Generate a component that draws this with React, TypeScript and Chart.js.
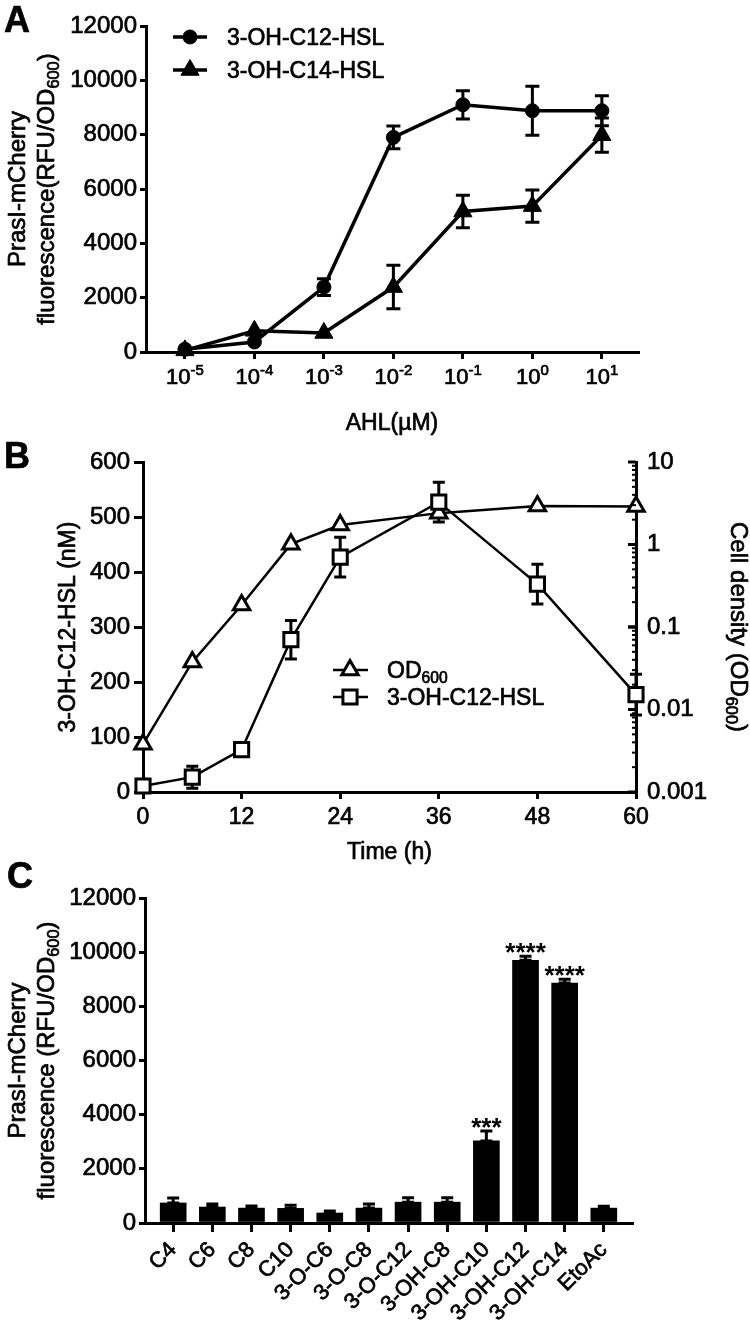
import React, { useEffect, useRef } from 'react';
import { Chart, registerables } from 'chart.js';

Chart.register(...registerables);

const FONT = '"Liberation Sans", Arial, Helvetica, sans-serif';
const W = 750;
const H = 1332;
const STROKE = 0.7;
Chart.defaults.font.family = FONT;
Chart.defaults.color = '#000';

// ---------------- Panel A data ----------------
const aConc = [1e-5, 1e-4, 1e-3, 1e-2, 1e-1, 1, 10];
const aExponents = ['-5', '-4', '-3', '-2', '-1', '0', '1'];
const aC12Mean = [100, 370, 2390, 7900, 9100, 8880, 8880];
const aC12Err = [0, 0, 310, 420, 520, 900, 550];
const aC14Mean = [60, 780, 700, 2390, 5170, 5370, 7980];
const aC14Err = [0, 0, 0, 800, 600, 590, 630];
const aLegend = ['3-OH-C12-HSL', '3-OH-C14-HSL'];

// ---------------- Panel B data ----------------
const bTime = [0, 6, 12, 18, 24, 36, 48, 60];
const bOD = [0.0038, 0.0377, 0.185, 1.01, 1.72, 2.4, 2.93, 2.88];
const bHSL = [11, 27, 77, 277, 427, 527, 378, 177];
const bHSLErr = [0, 20, 0, 35, 36, 36, 36, 37];
const bRightTicks = [0.001, 0.01, 0.1, 1, 10];
const bRightLabels = ['0.001', '0.01', '0.1', '1', '10'];

// ---------------- Panel C data ----------------
const cCats = ['C4', 'C6', 'C8', 'C10', '3-O-C6', '3-O-C8', '3-O-C12', '3-OH-C8', '3-OH-C10', '3-OH-C12', '3-OH-C14', 'EtoAc'];
const cMean = [740, 590, 550, 540, 370, 550, 770, 770, 3030, 9700, 8860, 550];
const cErr = [180, 110, 80, 120, 70, 150, 160, 160, 370, 150, 140, 70];
const cStars = ['', '', '', '', '', '', '', '', '***', '****', '****', ''];

type Seg = { t: string; s?: 'sub' | 'sup' };

function font(size: number, bold = false) {
  return `${bold ? 'bold ' : ''}${size}px ${FONT}`;
}

function drawRich(
  ctx: CanvasRenderingContext2D,
  segs: Seg[],
  x: number,
  y: number,
  size: number,
  align: 'left' | 'center' | 'right' = 'left',
  rot = 0,
  bold = false,
  subRatio = 0.68
) {
  ctx.save();
  ctx.translate(x, y);
  if (rot) ctx.rotate(rot);
  ctx.textAlign = 'left';
  ctx.textBaseline = 'alphabetic';
  ctx.fillStyle = '#000';
  ctx.strokeStyle = '#000';
  ctx.lineWidth = STROKE;
  ctx.lineJoin = 'round';
  const sizes = segs.map((s) => (s.s ? size * subRatio : size));
  let total = 0;
  const widths = segs.map((s, i) => {
    ctx.font = font(sizes[i], bold);
    const w = ctx.measureText(s.t).width;
    total += w;
    return w;
  });
  let cx = align === 'center' ? -total / 2 : align === 'right' ? -total : 0;
  segs.forEach((s, i) => {
    ctx.font = font(sizes[i], bold);
    const dy = s.s === 'sub' ? size * 0.22 : s.s === 'sup' ? -size * 0.4 : 0;
    ctx.fillText(s.t, cx, dy);
    ctx.strokeText(s.t, cx, dy);
    cx += widths[i];
  });
  ctx.restore();
}

function drawLetter(ctx: CanvasRenderingContext2D, letter: string, x: number, y: number) {
  drawRich(ctx, [{ t: letter }], x, y, 36, 'left', 0, true);
}

function marker(
  ctx: CanvasRenderingContext2D,
  style: string,
  x: number,
  y: number,
  r: number,
  fill: string,
  lw: number
) {
  ctx.save();
  ctx.beginPath();
  if (style === 'circle') {
    ctx.arc(x, y, r, 0, Math.PI * 2);
  } else if (style === 'triangle') {
    for (let k = 0; k < 3; k++) {
      const a = (k * 2 * Math.PI) / 3;
      const px = x + Math.sin(a) * r;
      const py = y - Math.cos(a) * r;
      if (k === 0) ctx.moveTo(px, py);
      else ctx.lineTo(px, py);
    }
  } else {
    const s = r * Math.SQRT1_2;
    ctx.rect(x - s, y - s, 2 * s, 2 * s);
  }
  ctx.closePath();
  ctx.fillStyle = fill;
  ctx.fill();
  ctx.strokeStyle = '#000';
  ctx.lineWidth = lw;
  ctx.stroke();
  ctx.restore();
}

function errBar(ctx: CanvasRenderingContext2D, x: number, top: number, bot: number | null, cap: number) {
  ctx.beginPath();
  ctx.moveTo(x, top);
  ctx.lineTo(x, bot === null ? top + 1 : bot);
  ctx.moveTo(x - cap, top);
  ctx.lineTo(x + cap, top);
  if (bot !== null) {
    ctx.moveTo(x - cap, bot);
    ctx.lineTo(x + cap, bot);
  }
  ctx.stroke();
}

function gridStyle(tickLength: number) {
  return {
    drawOnChartArea: false,
    drawTicks: true,
    tickLength,
    tickWidth: 3,
    tickColor: '#000',
    color: '#000',
    lineWidth: 3,
    offset: false,
  };
}
function tickFont(size: number) {
  return {
    font: { size, family: FONT },
    color: '#000',
    textStrokeColor: '#000',
    textStrokeWidth: STROKE,
  };
}
const plainNum = (v: any) => String(v);
const axisBorder = { display: true, color: '#000', width: 3 };
const baseOptions = {
  responsive: false,
  maintainAspectRatio: false,
  animation: false as const,
  devicePixelRatio: 1,
};

// ---------------- Panel A ----------------
function makeA(canvas: HTMLCanvasElement) {
  const ds = (label: string, mean: number[], style: string, r: number) => ({
    label,
    data: aConc.map((x, i) => ({ x, y: mean[i] })),
    borderColor: '#000',
    backgroundColor: '#000',
    borderWidth: 3.5,
    pointStyle: style,
    pointRadius: r,
    pointBackgroundColor: '#000',
    pointBorderColor: '#000',
    pointBorderWidth: 1,
    tension: 0,
    clip: false as const,
  });
  return new Chart(canvas, {
    type: 'line',
    data: {
      datasets: [ds(aLegend[0], aC12Mean, 'circle', 7), ds(aLegend[1], aC14Mean, 'triangle', 10.5)],
    },
    options: {
      ...baseOptions,
      layout: { padding: { left: 0, top: 26, right: W - 638, bottom: H - 352 - 80 } },
      plugins: { legend: { display: false }, tooltip: { enabled: false } },
      scales: {
        x: {
          type: 'logarithmic',
          position: 'bottom',
          min: Math.pow(10, -5.56),
          max: Math.pow(10, 1.52),
          afterBuildTicks: (s: any) => {
            s.ticks = aConc.map((v) => ({ value: v }));
          },
          afterFit: (s: any) => {
            s.height = 80;
          },
          ticks: { callback: () => '', autoSkip: false, padding: 0 },
          grid: gridStyle(7),
          border: axisBorder,
        },
        y: {
          type: 'linear',
          min: 0,
          max: 12000,
          afterFit: (s: any) => {
            s.width = 146;
          },
          ticks: { stepSize: 2000, callback: plainNum, padding: 3, ...tickFont(24) },
          grid: gridStyle(6),
          border: axisBorder,
        },
      },
    } as any,
    plugins: [
      {
        id: 'aDeco',
        beforeDatasetsDraw(chart: any) {
          const ctx = chart.ctx as CanvasRenderingContext2D;
          const xs = chart.scales.x;
          const ys = chart.scales.y;
          ctx.save();
          ctx.strokeStyle = '#000';
          ctx.lineWidth = 3;
          const series: [number[], number[]][] = [
            [aC12Mean, aC12Err],
            [aC14Mean, aC14Err],
          ];
          series.forEach(([m, e]) =>
            m.forEach((v, i) => {
              if (!e[i]) return;
              const x = xs.getPixelForValue(aConc[i]);
              errBar(ctx, x, ys.getPixelForValue(v + e[i]), ys.getPixelForValue(Math.max(0, v - e[i])), 7);
            })
          );
          ctx.restore();
        },
        afterDraw(chart: any) {
          const ctx = chart.ctx as CanvasRenderingContext2D;
          const xs = chart.scales.x;
          aConc.forEach((v, i) => {
            const x = xs.getPixelForValue(v);
            drawRich(ctx, [{ t: '10' }, { t: aExponents[i], s: 'sup' }], x, 384, 22, 'center');
          });
          const cx = (chart.chartArea.left + chart.chartArea.right) / 2;
          drawRich(ctx, [{ t: 'AHL(µM)' }], cx, 430, 23, 'center');
          const cy = (chart.chartArea.top + chart.chartArea.bottom) / 2;
          drawRich(ctx, [{ t: 'PrasI-mCherry' }], 25, cy, 24, 'center', -Math.PI / 2);
          drawRich(ctx, [{ t: 'fluorescence(RFU/OD' }, { t: '600', s: 'sub' }, { t: ')' }], 54, cy, 24, 'center', -Math.PI / 2);
          const items = [
            { y: 37, style: 'circle', r: 7 },
            { y: 70, style: 'triangle', r: 10.5 },
          ];
          items.forEach((it, i) => {
            ctx.save();
            ctx.strokeStyle = '#000';
            ctx.lineWidth = 3.5;
            ctx.beginPath();
            ctx.moveTo(173, it.y);
            ctx.lineTo(207, it.y);
            ctx.stroke();
            ctx.restore();
            marker(ctx, it.style, 190, it.y, it.r, '#000', 1);
            drawRich(ctx, [{ t: aLegend[i] }], 227, it.y + 8, 23, 'left');
          });
          drawLetter(ctx, 'A', 4, 32);
        },
      },
    ],
  });
}

// ---------------- Panel B ----------------
function makeB(canvas: HTMLCanvasElement) {
  return new Chart(canvas, {
    type: 'line',
    data: {
      datasets: [
        {
          label: '3-OH-C12-HSL',
          data: bTime.map((x, i) => ({ x, y: bHSL[i] })),
          yAxisID: 'y',
          borderColor: '#000',
          borderWidth: 2.5,
          pointStyle: 'rect',
          pointRadius: 10,
          pointBackgroundColor: '#fff',
          pointBorderColor: '#000',
          pointBorderWidth: 3,
          tension: 0,
          clip: false as const,
          order: 0,
        },
        {
          label: 'OD600',
          data: bTime.map((x, i) => ({ x, y: bOD[i] })),
          yAxisID: 'y2',
          borderColor: '#000',
          borderWidth: 2.5,
          pointStyle: 'triangle',
          pointRadius: 9.5,
          pointBackgroundColor: '#fff',
          pointBorderColor: '#000',
          pointBorderWidth: 3,
          tension: 0,
          clip: false as const,
          order: 1,
        },
      ],
    },
    options: {
      ...baseOptions,
      layout: { padding: { left: 0, top: 462, right: 0, bottom: H - 792 - 60 } },
      plugins: { legend: { display: false }, tooltip: { enabled: false } },
      scales: {
        x: {
          type: 'linear',
          min: 0,
          max: 60,
          afterFit: (s: any) => {
            s.height = 60;
          },
          ticks: { stepSize: 12, callback: plainNum, padding: 5, ...tickFont(23) },
          grid: gridStyle(7),
          border: axisBorder,
        },
        y: {
          type: 'linear',
          position: 'left',
          min: 0,
          max: 600,
          afterFit: (s: any) => {
            s.width = 143;
          },
          ticks: { stepSize: 100, callback: plainNum, padding: 4, ...tickFont(24) },
          grid: gridStyle(9),
          border: axisBorder,
        },
        y2: {
          type: 'logarithmic',
          position: 'right',
          min: 0.001,
          max: 10,
          afterBuildTicks: (s: any) => {
            s.ticks = bRightTicks.map((v) => ({ value: v }));
          },
          afterFit: (s: any) => {
            s.width = W - 636;
          },
          ticks: {
            callback: (_v: any, i: number) => bRightLabels[i],
            padding: 11,
            autoSkip: false,
            ...tickFont(24),
          },
          grid: { drawOnChartArea: false, drawTicks: false, color: '#000', lineWidth: 3 },
          border: axisBorder,
        },
      },
    } as any,
    plugins: [
      {
        id: 'bDeco',
        beforeDatasetsDraw(chart: any) {
          const ctx = chart.ctx as CanvasRenderingContext2D;
          const xs = chart.scales.x;
          const ys = chart.scales.y;
          ctx.save();
          ctx.strokeStyle = '#000';
          ctx.lineWidth = 3;
          bHSL.forEach((v, i) => {
            if (!bHSLErr[i]) return;
            errBar(ctx, xs.getPixelForValue(bTime[i]), ys.getPixelForValue(v + bHSLErr[i]), ys.getPixelForValue(v - bHSLErr[i]), 6);
          });
          ctx.restore();
        },
        afterDraw(chart: any) {
          const ctx = chart.ctx as CanvasRenderingContext2D;
          const y2 = chart.scales.y2;
          const right = chart.chartArea.right;
          ctx.save();
          ctx.strokeStyle = '#000';
          for (let d = -3; d <= 0; d++) {
            for (let m = 1; m <= 10; m++) {
              const v = m * Math.pow(10, d);
              const y = y2.getPixelForValue(v);
              const major = m === 1 || m === 10;
              ctx.lineWidth = major ? 3 : 2;
              ctx.beginPath();
              ctx.moveTo(right, y);
              ctx.lineTo(right - (major ? 8 : 4), y);
              ctx.stroke();
            }
          }
          ctx.restore();
          const cy = (chart.chartArea.top + chart.chartArea.bottom) / 2;
          drawRich(ctx, [{ t: '3-OH-C12-HSL (nM)' }], 75, cy, 23, 'center', -Math.PI / 2);
          drawRich(ctx, [{ t: 'Cell density (OD' }, { t: '600', s: 'sub' }, { t: ')' }], 731, cy, 24, 'center', Math.PI / 2);
          const cx = (chart.chartArea.left + chart.chartArea.right) / 2;
          drawRich(ctx, [{ t: 'Time (h)' }], cx, 859, 23, 'center');
          const items = [
            { y: 670, style: 'triangle', r: 9.5, segs: [{ t: 'OD' }, { t: '600', s: 'sub' }] as Seg[] },
            { y: 697, style: 'rect', r: 10, segs: [{ t: '3-OH-C12-HSL' }] as Seg[] },
          ];
          items.forEach((it) => {
            ctx.save();
            ctx.strokeStyle = '#000';
            ctx.lineWidth = 2.5;
            ctx.beginPath();
            ctx.moveTo(333, it.y);
            ctx.lineTo(368, it.y);
            ctx.stroke();
            ctx.restore();
            marker(ctx, it.style, 350, it.y, it.r, '#fff', 3);
            drawRich(ctx, it.segs, 387, it.y + 8, 23, 'left');
          });
          drawLetter(ctx, 'B', 4, 468);
        },
      },
    ],
  });
}

// ---------------- Panel C ----------------
function makeC(canvas: HTMLCanvasElement) {
  return new Chart(canvas, {
    type: 'bar',
    data: {
      datasets: [
        {
          label: 'fluorescence',
          data: cCats.map((_c, i) => ({ x: i, y: cMean[i] })),
          backgroundColor: '#000',
          borderWidth: 0,
          barThickness: 26,
        },
      ],
    },
    options: {
      ...baseOptions,
      layout: { padding: { left: 0, top: 898, right: W - 632, bottom: H - 1223 - 100 } },
      plugins: { legend: { display: false }, tooltip: { enabled: false } },
      scales: {
        x: {
          type: 'linear',
          offset: false,
          min: -0.72,
          max: cCats.length - 1 + 0.72,
          afterBuildTicks: (s: any) => {
            s.ticks = cCats.map((_c, i) => ({ value: i }));
          },
          afterFit: (s: any) => {
            s.height = 100;
          },
          ticks: {
            callback: (_v: any, i: number) => cCats[i],
            autoSkip: false,
            minRotation: 45,
            maxRotation: 45,
            padding: 5,
            ...tickFont(22),
          },
          grid: gridStyle(9),
          border: axisBorder,
        },
        y: {
          type: 'linear',
          min: 0,
          max: 12000,
          afterFit: (s: any) => {
            s.width = 145;
          },
          ticks: { stepSize: 2000, callback: plainNum, padding: 3, ...tickFont(24) },
          grid: gridStyle(6),
          border: axisBorder,
        },
      },
    } as any,
    plugins: [
      {
        id: 'cDeco',
        afterDatasetsDraw(chart: any) {
          const ctx = chart.ctx as CanvasRenderingContext2D;
          const xs = chart.scales.x;
          const ys = chart.scales.y;
          ctx.save();
          ctx.strokeStyle = '#000';
          ctx.lineWidth = 3;
          cMean.forEach((v, i) => {
            const x = xs.getPixelForValue(i);
            const top = ys.getPixelForValue(v + cErr[i]);
            errBar(ctx, x, top, ys.getPixelForValue(v), 6);
            if (cStars[i]) {
              ctx.font = font(26, true);
              ctx.fillStyle = '#000';
              ctx.textAlign = 'center';
              ctx.textBaseline = 'alphabetic';
              const m = ctx.measureText(cStars[i]);
              const centerY = top - 8;
              const base = centerY + (m.actualBoundingBoxAscent - m.actualBoundingBoxDescent) / 2;
              ctx.fillText(cStars[i], x, base);
            }
          });
          ctx.restore();
        },
        afterDraw(chart: any) {
          const ctx = chart.ctx as CanvasRenderingContext2D;
          const cy = (chart.chartArea.top + chart.chartArea.bottom) / 2;
          drawRich(ctx, [{ t: 'PrasI-mCherry' }], 25, cy, 24, 'center', -Math.PI / 2);
          drawRich(ctx, [{ t: 'fluorescence (RFU/OD' }, { t: '600', s: 'sub' }, { t: ')' }], 54, cy, 24, 'center', -Math.PI / 2);
          drawLetter(ctx, 'C', 7, 888);
        },
      },
    ],
  });
}

function PanelChart({ make }: { make: (c: HTMLCanvasElement) => Chart }) {
  const ref = useRef<HTMLCanvasElement>(null);
  useEffect(() => {
    const chart = make(ref.current as HTMLCanvasElement);
    return () => chart.destroy();
  }, [make]);
  return (
    <canvas
      ref={ref}
      width={W}
      height={H}
      style={{ position: 'absolute', left: 0, top: 0, width: W, height: H }}
    />
  );
}

export default function App() {
  return (
    <div
      style={{
        position: 'absolute',
        left: 0,
        top: 0,
        width: W,
        height: H,
        background: '#fff',
        overflow: 'hidden',
      }}
    >
      <PanelChart make={makeA} />
      <PanelChart make={makeB} />
      <PanelChart make={makeC} />
    </div>
  );
}
